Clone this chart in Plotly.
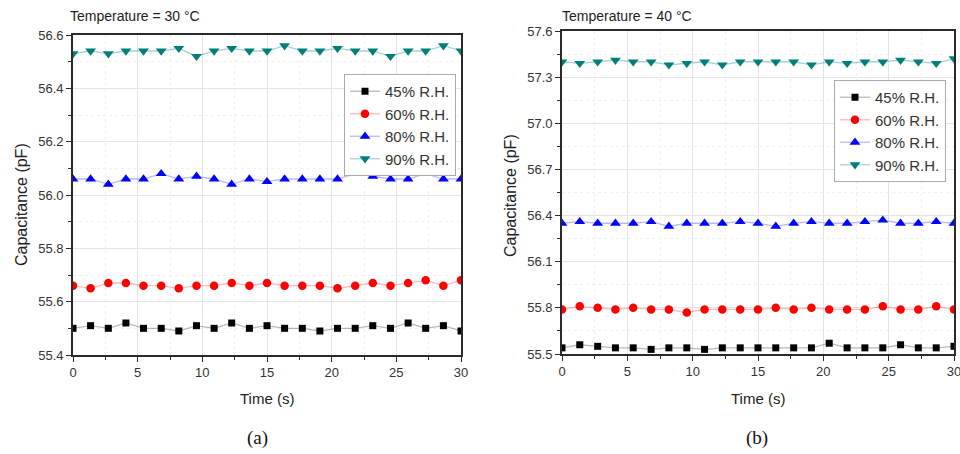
import plotly.graph_objects as go

# ---------------- data ----------------
time_s = [0, 1.36, 2.73, 4.09, 5.45, 6.82, 8.18, 9.55, 10.91, 12.27, 13.64, 15.0,
          16.36, 17.73, 19.09, 20.45, 21.82, 23.18, 24.55, 25.91, 27.27, 28.64, 30.0]

series_names = ["45% R.H.", "60% R.H.", "80% R.H.", "90% R.H."]

# (a) Temperature = 30 °C
a_45 = [55.50, 55.51, 55.50, 55.52, 55.50, 55.50, 55.49, 55.51, 55.50, 55.52, 55.50, 55.51,
        55.50, 55.50, 55.49, 55.50, 55.50, 55.51, 55.50, 55.52, 55.50, 55.51, 55.49]
a_60 = [55.66, 55.65, 55.67, 55.67, 55.66, 55.66, 55.65, 55.66, 55.66, 55.67, 55.66, 55.67,
        55.66, 55.66, 55.66, 55.65, 55.66, 55.67, 55.66, 55.67, 55.68, 55.66, 55.68]
a_80 = [56.06, 56.06, 56.04, 56.06, 56.06, 56.08, 56.06, 56.07, 56.06, 56.04, 56.06, 56.05,
        56.06, 56.06, 56.06, 56.06, 56.08, 56.07, 56.06, 56.06, 56.08, 56.06, 56.06]
a_90 = [56.53, 56.54, 56.53, 56.54, 56.54, 56.54, 56.55, 56.52, 56.54, 56.55, 56.54, 56.54,
        56.56, 56.54, 56.54, 56.55, 56.54, 56.54, 56.52, 56.54, 56.54, 56.56, 56.54]

# (b) Temperature = 40 °C
b_45 = [55.54, 55.56, 55.55, 55.54, 55.54, 55.53, 55.54, 55.54, 55.53, 55.54, 55.54, 55.54,
        55.54, 55.54, 55.54, 55.57, 55.54, 55.54, 55.54, 55.56, 55.54, 55.54, 55.55]
b_60 = [55.79, 55.81, 55.80, 55.79, 55.80, 55.79, 55.79, 55.77, 55.79, 55.79, 55.79, 55.79,
        55.80, 55.79, 55.80, 55.79, 55.79, 55.79, 55.81, 55.79, 55.79, 55.81, 55.79]
b_80 = [56.35, 56.36, 56.35, 56.35, 56.35, 56.36, 56.33, 56.35, 56.35, 56.35, 56.36, 56.35,
        56.33, 56.35, 56.36, 56.35, 56.35, 56.36, 56.37, 56.35, 56.35, 56.36, 56.35]
b_90 = [57.40, 57.39, 57.40, 57.41, 57.40, 57.40, 57.38, 57.39, 57.40, 57.38, 57.40, 57.40,
        57.40, 57.40, 57.38, 57.40, 57.39, 57.40, 57.40, 57.41, 57.40, 57.39, 57.42]

a_yticks = [55.4, 55.6, 55.8, 56.0, 56.2, 56.4, 56.6]
b_yticks = [55.5, 55.8, 56.1, 56.4, 56.7, 57.0, 57.3, 57.6]
x_ticks = [0, 5, 10, 15, 20, 25, 30]

# ---------------- styles ----------------
marker_colors = ["#000000", "#ff0000", "#0000ff", "#007f7a"]
line_colors = ["rgba(0,0,0,0.28)", "rgba(255,0,0,0.28)", "rgba(0,0,255,0.28)", "rgba(0,127,122,0.35)"]
symbols = ["square", "circle", "triangle-up", "triangle-down"]
sizes = [7, 8.5, 9.5, 9.5]

FONT = "Liberation Sans, Arial, sans-serif"
W, H = 960, 454

def px(x):
    return x / W

def py(y):
    return (H - y) / H

fig = go.Figure()

for panel, (vals, xa, ya, lg) in enumerate([
        ([a_45, a_60, a_80, a_90], "x", "y", "legend"),
        ([b_45, b_60, b_80, b_90], "x2", "y2", "legend2")]):
    for i, v in enumerate(vals):
        fig.add_trace(go.Scatter(
            x=time_s, y=v, mode="lines+markers", name=series_names[i],
            xaxis=xa, yaxis=ya, legend=lg,
            line=dict(color=line_colors[i], width=1.3),
            marker=dict(symbol=symbols[i], size=sizes[i], color=marker_colors[i]),
        ))

axis_common = dict(
    automargin=False,
    showline=True, linecolor="#2a2a2a", linewidth=1.6, mirror=True,
    ticks="outside", ticklen=5, tickwidth=1.3, tickcolor="#2a2a2a",
    showgrid=True, gridcolor="#e4e4e4", gridwidth=1,
    zeroline=False, ticklabeloverflow="allow",
    tickfont=dict(family=FONT, size=13, color="#333333"),
)

x_common = dict(axis_common, range=[0, 30], tickvals=x_ticks,
                minor=dict(dtick=2.5, tick0=0, ticks="outside", ticklen=3, tickcolor="#2a2a2a",
                           showgrid=True, gridcolor="#f0f0f0", griddash="dot"))

inner_common = dict(automargin=False, ticks="inside", ticklen=5, tickwidth=1.3, tickcolor="#2a2a2a",
                    showticklabels=False, showgrid=False, showline=False, zeroline=False)

# plot-area rectangles (pixels)
A = dict(x0=73, x1=461, y0=35, y1=355)
B = dict(x0=562, x1=954, y0=31, y1=354)

fig.update_layout(
    width=W, height=H,
    margin=dict(l=0, r=0, t=0, b=0, autoexpand=False),
    paper_bgcolor="white", plot_bgcolor="white",
    showlegend=True,
    xaxis=dict(x_common, domain=[px(A["x0"]), px(A["x1"])], anchor="y"),
    yaxis=dict(axis_common, domain=[py(A["y1"]), py(A["y0"])], anchor="x",
               range=[55.4, 56.6], tickvals=a_yticks, tickformat=".1f",
               minor=dict(dtick=0.1, tick0=55.4, ticks="outside", ticklen=3, tickcolor="#2a2a2a",
                          showgrid=True, gridcolor="#f0f0f0", griddash="dot")),
    xaxis2=dict(x_common, domain=[px(B["x0"]), px(B["x1"])], anchor="y2"),
    yaxis2=dict(axis_common, domain=[py(B["y1"]), py(B["y0"])], anchor="x2",
                range=[55.5, 57.6], tickvals=b_yticks, tickformat=".1f",
                minor=dict(dtick=0.15, tick0=55.5, ticks="outside", ticklen=3, tickcolor="#2a2a2a",
                           showgrid=True, gridcolor="#f0f0f0", griddash="dot")),
    # inward ticks on top / right edges
    xaxis3=dict(inner_common, overlaying="x", side="top", anchor="y", range=[0, 30], tickvals=x_ticks,
                minor=dict(dtick=2.5, tick0=0, ticks="inside", ticklen=3, tickcolor="#2a2a2a")),
    yaxis3=dict(inner_common, overlaying="y", side="right", anchor="x", range=[55.4, 56.6], tickvals=a_yticks,
                minor=dict(dtick=0.1, tick0=55.4, ticks="inside", ticklen=3, tickcolor="#2a2a2a")),
    xaxis4=dict(inner_common, overlaying="x2", side="top", anchor="y2", range=[0, 30], tickvals=x_ticks,
                minor=dict(dtick=2.5, tick0=0, ticks="inside", ticklen=3, tickcolor="#2a2a2a")),
    yaxis4=dict(inner_common, overlaying="y2", side="right", anchor="x2", range=[55.5, 57.6], tickvals=b_yticks,
                minor=dict(dtick=0.15, tick0=55.5, ticks="inside", ticklen=3, tickcolor="#2a2a2a")),
    legend=dict(x=px(456), xanchor="right", y=py(74), yanchor="top",
                bgcolor="white", bordercolor="#aaaaaa", borderwidth=1,
                font=dict(family=FONT, size=15, color="#333333"),
                tracegroupgap=0, itemwidth=30),
    legend2=dict(x=px(946), xanchor="right", y=py(80), yanchor="top",
                 bgcolor="white", bordercolor="#aaaaaa", borderwidth=1,
                 font=dict(family=FONT, size=15, color="#333333"),
                 tracegroupgap=0, itemwidth=30),
)

ann = []
for cx, title in [(68, "Temperature = 30 °C"), (560, "Temperature = 40 °C")]:
    ann.append(dict(x=px(cx), y=py(16), xref="paper", yref="paper", xanchor="left", yanchor="middle",
                    text=title, showarrow=False, font=dict(family=FONT, size=14, color="#222222")))
for cx in [267, 758]:
    ann.append(dict(x=px(cx), y=py(398), xref="paper", yref="paper", xanchor="center", yanchor="middle",
                    text="Time (s)", showarrow=False, font=dict(family=FONT, size=15, color="#222222")))
for cx, cy in [(22, 205), (510, 196)]:
    ann.append(dict(x=px(cx), y=py(cy), xref="paper", yref="paper", xanchor="center", yanchor="middle",
                    text="Capacitance (pF)", textangle=-90, showarrow=False,
                    font=dict(family=FONT, size=16, color="#222222")))
for cx, lab in [(257, "(a)"), (757, "(b)")]:
    ann.append(dict(x=px(cx), y=py(438), xref="paper", yref="paper", xanchor="center", yanchor="middle",
                    text=lab, showarrow=False,
                    font=dict(family="Liberation Serif, Times New Roman, serif", size=19, color="#111111")))
fig.update_layout(annotations=ann)

fig.write_html("out.html",
               config={"displayModeBar": False},
               post_script="document.body.style.margin='0px';document.body.style.overflow='hidden';")
